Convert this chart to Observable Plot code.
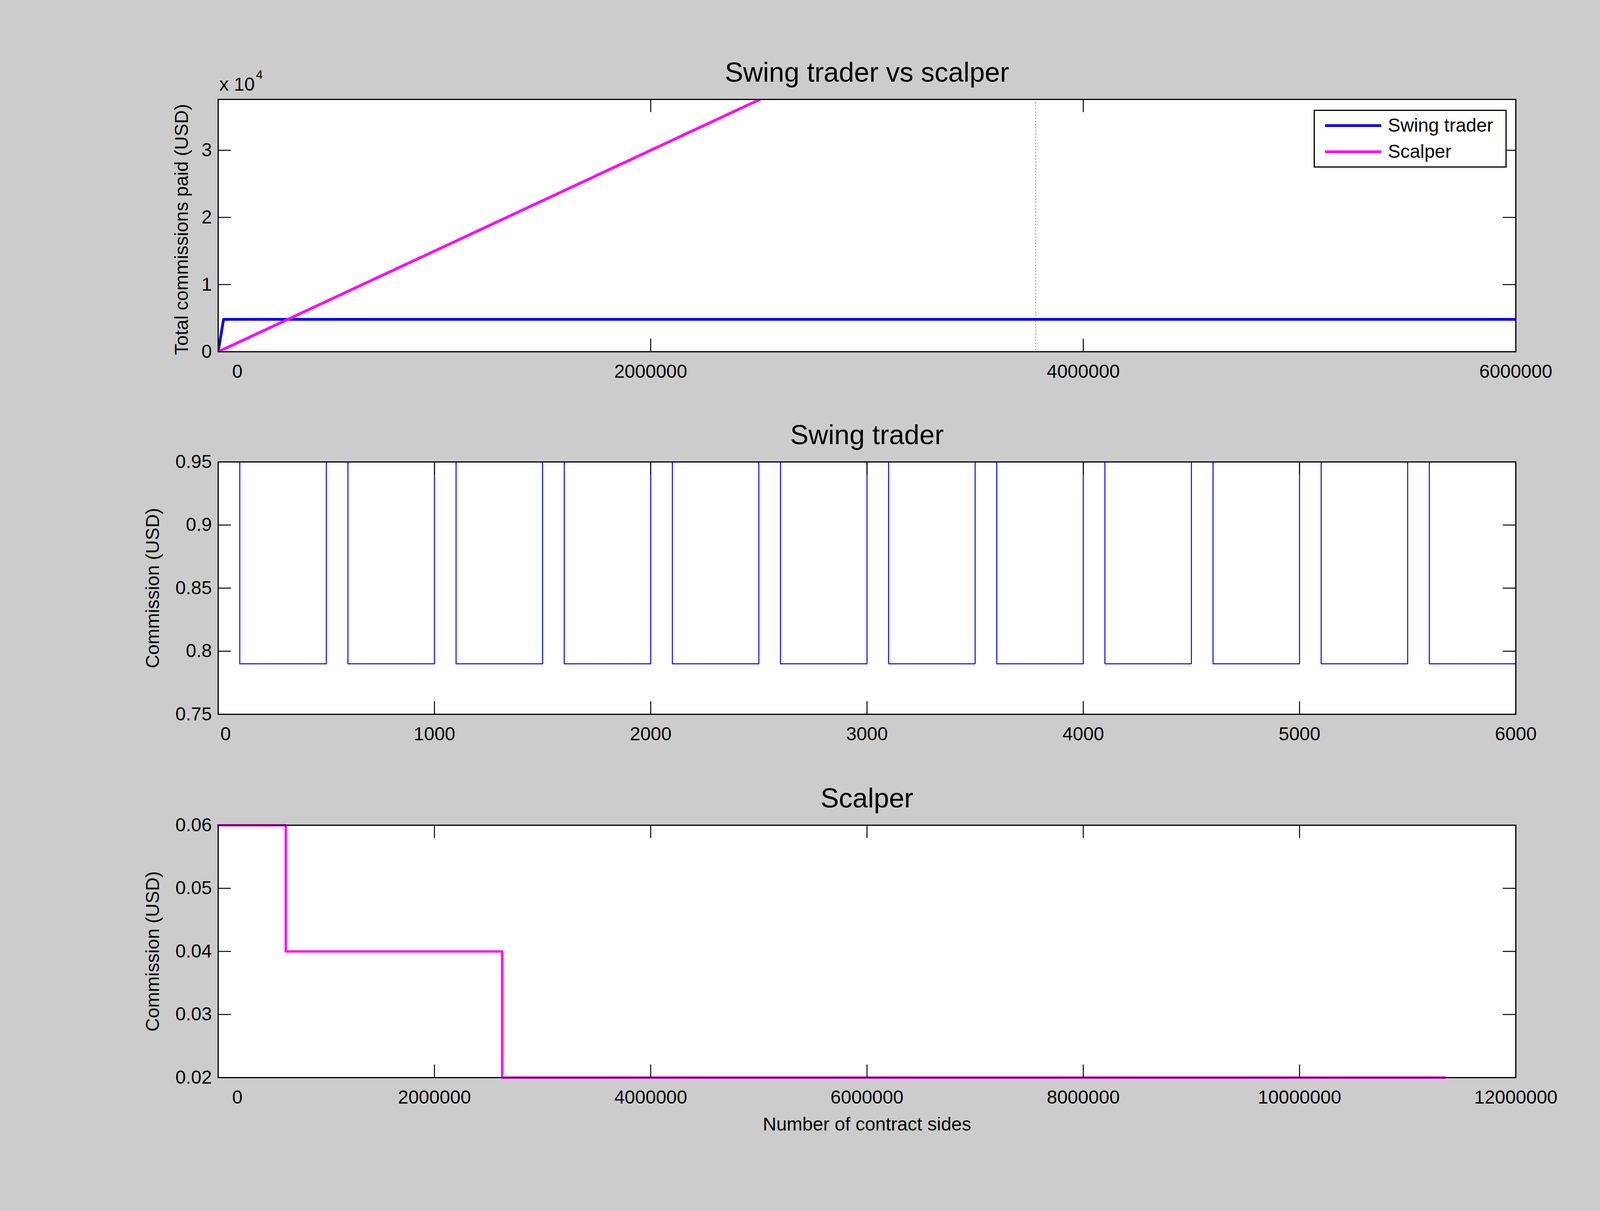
<!DOCTYPE html>
<html>
<head>
<meta charset="utf-8">
<script src="https://cdn.jsdelivr.net/npm/d3@7"></script>
<script src="https://cdn.jsdelivr.net/npm/@observablehq/plot@0.6"></script>
<style>
  html, body { margin: 0; padding: 0; background: #cccccc; }
  #fig { position: relative; width: 4290px; height: 3100px; background: #cccccc; overflow: hidden;
         font-family: "Liberation Sans", Helvetica, Arial, sans-serif; }
  .panel { position: absolute; left: 0; }
  #legend { position: absolute; left: 3363px; top: 281px; width: 488px; height: 142px;
            background: white; border: 3px solid black; }
  .entry { position: absolute; left: 26px; height: 60px; width: 470px; }
  .swatch { position: absolute; left: 0; top: 27px; width: 144px; height: 7px; }
  .lab { position: absolute; left: 161px; top: 0; font-size: 48px; line-height: 60px; color: black; white-space: nowrap; }
</style>
</head>
<body>
<div id="fig"></div>
<script>
// ---------- data ----------
// Panel 1: cumulative commissions (USD)
const totalSwingSides = [0, 25000, 6000000];
const totalSwingPaid = [0, 4834, 4834];
const totalScalperSides = [0, 1000000, 2000000, 2504000];
const totalScalperPaid = [0, 15000, 30000, 37560];
const markerSides = [3780000];

// Panel 2: swing trader commission per contract side
const swingSides = [0, 100, 500, 600, 1000, 1100, 1500, 1600, 2000, 2100, 2500, 2600,
                    3000, 3100, 3500, 3600, 4000, 4100, 4500, 4600, 5000, 5100, 5500, 5600, 6000];
const swingCommission = [1.0, 0.79, 1.0, 0.79, 1.0, 0.79, 1.0, 0.79, 1.0, 0.79, 1.0, 0.79,
                         1.0, 0.79, 1.0, 0.79, 1.0, 0.79, 1.0, 0.79, 1.0, 0.79, 1.0, 0.79, 0.79];

// Panel 3: scalper commission per contract side
const scalperSides = [0, 625000, 2626000, 11350000];
const scalperCommission = [0.06, 0.04, 0.02, 0.02];

// ticks
const p1XTicks = [2000000, 4000000, 6000000];
const p1YTicks = [0, 10000, 20000, 30000];
const p2XTicks = [1000, 2000, 3000, 4000, 5000, 6000];
const p2YTicks = [0.75, 0.8, 0.85, 0.9, 0.95];
const p3XTicks = [2000000, 4000000, 6000000, 8000000, 10000000, 12000000];
const p3YTicks = [0.02, 0.03, 0.04, 0.05, 0.06];

const titles = ["Swing trader vs scalper", "Swing trader", "Scalper"];
const yLabels = ["Total commissions paid (USD)", "Commission (USD)", "Commission (USD)"];
const xLabel = "Number of contract sides";
const legendNames = ["Swing trader", "Scalper"];
const colors = ["#0000ff", "#ff00ff"];

// ---------- layout ----------
const W = 4290, ML = 558, MR = 410, FW = W - ML - MR, FH = 646, MT = 130;
const FONT = "\"Liberation Sans\", Helvetica, Arial, sans-serif";
const TICK = 33;

const zip = (xs, ys) => xs.map((x, i) => ({x, y: ys[i]}));

function commonMarks({xTicks, yTicks, yFmt, zeroDx, title, yLabel, yLabelDx, yLabelDy}) {
  const fmt = d => String(d);
  return {
    before: [Plot.frame({fill: "white"})],
    after: [
      Plot.tickY(yTicks, {y: d => d, insetRight: FW - TICK, stroke: "black", strokeWidth: 2.5}),
      Plot.tickY(yTicks, {y: d => d, insetLeft: FW - TICK, stroke: "black", strokeWidth: 2.5}),
      Plot.tickX(xTicks, {x: d => d, insetTop: FH - TICK, stroke: "black", strokeWidth: 2.5}),
      Plot.tickX(xTicks, {x: d => d, insetBottom: FH - TICK, stroke: "black", strokeWidth: 2.5}),
      Plot.frame({stroke: "black", strokeWidth: 3}),
      Plot.axisY(yTicks, {tickSize: 0, tickPadding: 16, tickFormat: yFmt, fontSize: 48, label: null}),
      Plot.axisX(xTicks, {tickSize: 0, tickPadding: 32, tickFormat: fmt, fontSize: 48, label: null}),
      Plot.axisX([0], {tickSize: 0, tickPadding: 32, tickFormat: fmt, fontSize: 48, label: null, dx: zeroDx}),
      Plot.text([title], {frameAnchor: "top", textAnchor: "middle", lineAnchor: "middle", dy: -68, fontSize: 70, fill: "black"}),
      Plot.text([yLabel], {frameAnchor: "left", textAnchor: "middle", lineAnchor: "middle", rotate: -90, dx: yLabelDx, dy: yLabelDy, fontSize: 48, fill: "black"})
    ]
  };
}

function makePlot({xDomain, yDomain, marks, mb, extra, common}) {
  return Plot.plot({
    width: W, height: MT + FH + mb,
    marginLeft: ML, marginRight: MR, marginTop: MT, marginBottom: mb,
    style: {background: "transparent", fontFamily: FONT, color: "black", overflow: "visible"},
    x: {domain: xDomain, label: null},
    y: {domain: yDomain, label: null},
    marks: [...common.before, ...marks, ...common.after, ...(extra || [])]
  });
}

// Panel 1
const c1 = commonMarks({xTicks: p1XTicks, yTicks: p1YTicks, yFmt: d => String(d / 10000), zeroDx: 49,
                        title: titles[0], yLabel: yLabels[0], yLabelDx: -93, yLabelDy: 10});
const plot1 = makePlot({
  xDomain: [0, 6000000], yDomain: [0, 37570], mb: 150, common: c1,
  marks: [
    Plot.ruleX(markerSides, {x: d => d, stroke: "#444", strokeWidth: 2, strokeDasharray: "2,6"}),
    Plot.line(zip(totalSwingSides, totalSwingPaid), {x: "x", y: "y", stroke: colors[0], strokeWidth: 7, clip: true}),
    Plot.line(zip(totalScalperSides, totalScalperPaid), {x: "x", y: "y", stroke: colors[1], strokeWidth: 7, clip: true})
  ],
  extra: [
    Plot.text(["x 10"], {frameAnchor: "top-left", textAnchor: "start", lineAnchor: "middle", dx: 3, dy: -38, fontSize: 48, fill: "black"}),
    Plot.text(["4"], {frameAnchor: "top-left", textAnchor: "start", lineAnchor: "middle", dx: 97, dy: -62, fontSize: 31, fill: "black"})
  ]
});

// Panel 2
const c2 = commonMarks({xTicks: p2XTicks, yTicks: p2YTicks, yFmt: d => String(d), zeroDx: 19,
                        title: titles[1], yLabel: yLabels[1], yLabelDx: -167, yLabelDy: 0});
const plot2 = makePlot({
  xDomain: [0, 6000], yDomain: [0.75, 0.95], mb: 150, common: c2,
  marks: [
    Plot.line(zip(swingSides, swingCommission), {x: "x", y: "y", stroke: colors[0], strokeWidth: 2.5, curve: "step-after", clip: true})
  ]
});

// Panel 3
const c3 = commonMarks({xTicks: p3XTicks, yTicks: p3YTicks, yFmt: d => String(d), zeroDx: 49,
                        title: titles[2], yLabel: yLabels[2], yLabelDx: -167, yLabelDy: 0});
const plot3 = makePlot({
  xDomain: [0, 12000000], yDomain: [0.02, 0.06], mb: 200, common: c3,
  marks: [
    Plot.line(zip(scalperSides, scalperCommission), {x: "x", y: "y", stroke: colors[1], strokeWidth: 6, curve: "step-after"})
  ],
  extra: [
    Plot.text([xLabel], {frameAnchor: "bottom", textAnchor: "middle", lineAnchor: "middle", dy: 120, fontSize: 48, fill: "black"})
  ]
});

const fig = document.getElementById("fig");
const tops = [254 - MT, 1182 - MT, 2112 - MT];
[plot1, plot2, plot3].forEach((p, i) => {
  p.classList.add("panel");
  p.style.position = "absolute";
  p.style.top = tops[i] + "px";
  p.style.left = "0px";
  fig.appendChild(p);
});

// legend
const legend = document.createElement("div");
legend.id = "legend";
legendNames.forEach((name, i) => {
  const e = document.createElement("div");
  e.className = "entry";
  e.style.top = (i === 0 ? 7 : 74) + "px";
  const sw = document.createElement("div");
  sw.className = "swatch";
  sw.style.background = colors[i];
  const lb = document.createElement("div");
  lb.className = "lab";
  lb.textContent = name;
  e.appendChild(sw); e.appendChild(lb);
  legend.appendChild(e);
});
fig.appendChild(legend);
</script>
</body>
</html>
